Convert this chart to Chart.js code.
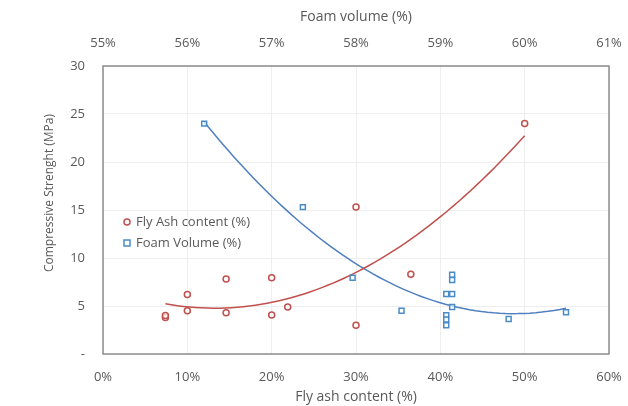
<!DOCTYPE html>
<html lang="en">
<head>
    <meta charset="UTF-8">
    <title>Compressive strength vs fly ash / foam volume</title>
    <script src="https://cdn.jsdelivr.net/npm/chart.js"></script>
    <style>
        body {
            margin: 0;
            background-color: #ffffff;
        }
        #wrap {
            width: 628px;
            height: 406px;
        }
    </style>
</head>
<body>
    <div id="wrap"><canvas id="strengthChart" width="628" height="406"></canvas></div>

    <script>
        // Fly ash content (%) -> compressive strength (MPa)
        const flyAshX = [7.4, 7.4, 10, 10, 14.6, 14.6, 20, 20, 21.9, 30, 30, 36.5, 50];
        const flyAshY = [3.8, 4.0, 6.2, 4.5, 7.8, 4.3, 7.95, 4.05, 4.9, 15.3, 3.0, 8.3, 24.0];

        // Foam volume (%) -> compressive strength (MPa)
        const foamX = [56.2, 57.37, 57.96, 58.54, 59.07, 59.07, 59.07, 59.07, 59.14, 59.14, 59.14, 59.14, 59.81, 60.49];
        const foamY = [24.0, 15.3, 7.95, 4.5, 6.25, 4.05, 3.6, 3.0, 8.25, 7.7, 6.25, 4.9, 3.65, 4.35];

        const yTicks = [0, 5, 10, 15, 20, 25, 30];
        const bottomTicks = [0, 10, 20, 30, 40, 50, 60];
        const topTicks = [55, 56, 57, 58, 59, 60, 61];

        const textColor = '#595959';
        const red = '#c0504d';
        const blue = '#4a8cc7';
        const tickFont = { family: 'Open Sans', size: 13 };
        const titleFont = { family: 'Open Sans', size: 14 };

        // least squares polynomial (order 2), like the Excel trendline
        function polyFit2(xs, ys) {
            let s = [0, 0, 0, 0, 0], t = [0, 0, 0];
            for (let i = 0; i < xs.length; i++) {
                let p = 1;
                for (let k = 0; k < 5; k++) { s[k] += p; if (k < 3) t[k] += p * ys[i]; p *= xs[i]; }
            }
            const m = [[s[0], s[1], s[2], t[0]], [s[1], s[2], s[3], t[1]], [s[2], s[3], s[4], t[2]]];
            for (let c = 0; c < 3; c++) {
                for (let r = c + 1; r < 3; r++) {
                    const f = m[r][c] / m[c][c];
                    for (let k = c; k < 4; k++) m[r][k] -= f * m[c][k];
                }
            }
            const a = [0, 0, 0];
            for (let r = 2; r >= 0; r--) {
                let v = m[r][3];
                for (let k = r + 1; k < 3; k++) v -= m[r][k] * a[k];
                a[r] = v / m[r][r];
            }
            return a;
        }

        function trendPoints(xs, ys) {
            const a = polyFit2(xs, ys);
            const lo = Math.min(...xs), hi = Math.max(...xs);
            const pts = [];
            for (let i = 0; i <= 60; i++) {
                const x = lo + (hi - lo) * i / 60;
                pts.push({ x: x, y: a[0] + a[1] * x + a[2] * x * x });
            }
            return pts;
        }

        const toPoints = (xs, ys) => xs.map((x, i) => ({ x: x, y: ys[i] }));

        // frame round the plot area, y title and legend inside it
        const framePlugin = {
            id: 'frame',
            beforeDraw(chart) {
                const ctx = chart.ctx;
                ctx.save();
                ctx.fillStyle = '#ffffff';
                ctx.fillRect(0, 0, chart.width, chart.height);
                ctx.restore();
            },
            afterDraw(chart) {
                const { ctx, chartArea: a } = chart;
                ctx.save();
                ctx.strokeStyle = '#8c8c8c';
                ctx.lineWidth = 1.5;
                ctx.strokeRect(a.left, a.top, a.right - a.left, a.bottom - a.top);

                // y axis title (sits a bit above the middle in the original)
                ctx.save();
                ctx.translate(50, 193);
                ctx.rotate(-Math.PI / 2);
                ctx.font = '12px "Open Sans"';
                ctx.fillStyle = textColor;
                ctx.textAlign = 'center';
                ctx.textBaseline = 'middle';
                ctx.fillText('Compressive Strenght (MPa)', 0, 0);
                ctx.restore();

                // legend
                ctx.font = '13px "Open Sans"';
                ctx.fillStyle = textColor;
                ctx.textBaseline = 'middle';
                ctx.textAlign = 'left';
                ctx.lineWidth = 1.5;
                ctx.strokeStyle = red;
                ctx.beginPath();
                ctx.arc(127, 222, 3, 0, Math.PI * 2);
                ctx.stroke();
                ctx.fillText('Fly Ash content (%)', 136, 222);
                ctx.strokeStyle = blue;
                ctx.strokeRect(124, 240, 6, 6);
                ctx.fillText('Foam Volume (%)', 136, 243);
                ctx.restore();
            }
        };

        const ctx = document.getElementById('strengthChart').getContext('2d');
        new Chart(ctx, {
            type: 'scatter',
            data: {
                datasets: [
                    {
                        label: 'Fly Ash content (%)',
                        data: toPoints(flyAshX, flyAshY),
                        xAxisID: 'x',
                        pointStyle: 'circle',
                        pointRadius: 3,
                        pointBorderWidth: 1.5,
                        borderColor: red,
                        backgroundColor: 'rgba(255,255,255,0.7)'
                    },
                    {
                        label: 'Foam Volume (%)',
                        data: toPoints(foamX, foamY),
                        xAxisID: 'x2',
                        pointStyle: 'rect',
                        pointRadius: 3.5,
                        pointBorderWidth: 1.5,
                        borderColor: blue,
                        backgroundColor: 'rgba(255,255,255,0.7)'
                    },
                    {
                        label: 'fly ash trend',
                        data: trendPoints(flyAshX, flyAshY),
                        xAxisID: 'x',
                        showLine: true,
                        pointRadius: 0,
                        borderWidth: 1.5,
                        borderColor: red,
                        tension: 0
                    },
                    {
                        label: 'foam trend',
                        data: trendPoints(foamX, foamY),
                        xAxisID: 'x2',
                        showLine: true,
                        pointRadius: 0,
                        borderWidth: 1.5,
                        borderColor: '#4f7fbf',
                        tension: 0
                    }
                ]
            },
            options: {
                responsive: false,
                animation: false,
                layout: { padding: { left: 0, right: 19, top: 0, bottom: 0 } },
                plugins: {
                    legend: { display: false },
                    tooltip: { enabled: false }
                },
                scales: {
                    x: {
                        type: 'linear',
                        position: 'bottom',
                        min: 0,
                        max: 60,
                        afterBuildTicks: s => { s.ticks = bottomTicks.map(v => ({ value: v })); },
                        afterFit: s => { s.height = 52; s.paddingLeft = 0; s.paddingRight = 0; },
                        ticks: { color: textColor, font: tickFont, padding: 15, maxRotation: 0, callback: v => v + '%' },
                        grid: { color: '#eeeeee', drawTicks: false },
                        border: { display: false },
                        title: { display: true, text: 'Fly ash content (%)', color: textColor, font: titleFont, padding: { top: 0, bottom: 1 } }
                    },
                    x2: {
                        type: 'linear',
                        position: 'top',
                        min: 55,
                        max: 61,
                        afterBuildTicks: s => { s.ticks = topTicks.map(v => ({ value: v })); },
                        afterFit: s => { s.height = 66; s.paddingLeft = 0; s.paddingRight = 0; },
                        ticks: { color: textColor, font: tickFont, padding: 15, maxRotation: 0, callback: v => v + '%' },
                        grid: { display: false, drawTicks: false },
                        border: { display: false },
                        title: { display: true, text: 'Foam volume (%)', color: textColor, font: titleFont, padding: { top: 9, bottom: 0 } }
                    },
                    y: {
                        min: 0,
                        max: 30,
                        afterBuildTicks: s => { s.ticks = yTicks.map(v => ({ value: v })); },
                        afterFit: s => { s.width = 103; s.paddingTop = 0; s.paddingBottom = 0; },
                        ticks: { color: textColor, font: tickFont, padding: 18, callback: v => v === 0 ? '-' : v },
                        grid: { color: '#eeeeee', drawTicks: false },
                        border: { display: false },
                        title: { display: false }
                    }
                }
            },
            plugins: [framePlugin]
        });
    </script>
</body>
</html>
